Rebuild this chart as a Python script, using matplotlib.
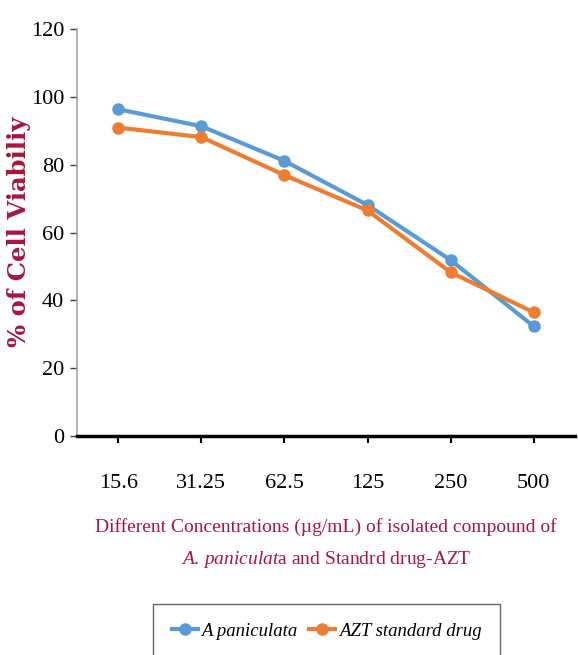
import numpy as np
import matplotlib.pyplot as plt

# viability (%) at each concentration
concentrations = ['15.6', '31.25', '62.5', '125', '250', '500']
a_paniculata = [96.3, 91.3, 81.1, 68.1, 51.9, 32.4]
azt_standard = [90.9, 88.1, 76.9, 66.5, 48.3, 36.5]
y_ticks = [0, 20, 40, 60, 80, 100, 120]

blue = '#5B9BD5'
orange = '#ED7D31'
red = '#A5173F'

plt.rcParams['font.family'] = ['Liberation Serif', 'DejaVu Serif']
plt.rcParams['mathtext.fontset'] = 'custom'
plt.rcParams['mathtext.it'] = 'Liberation Serif:italic'
plt.rcParams['mathtext.rm'] = 'Liberation Serif'

fig = plt.figure(figsize=(5.78, 6.55), dpi=100)
ax = fig.add_axes([0.133, 0.334, 0.862, 0.622])

x = np.arange(len(concentrations))
ax.plot(x, a_paniculata, color=blue, lw=3, marker='o', ms=8,
        label='A paniculata')
ax.plot(x, azt_standard, color=orange, lw=3, marker='o', ms=8,
        label='AZT standard drug')

ax.set_xlim(-0.5, len(concentrations) - 0.5)
ax.set_ylim(0, 120)
ax.set_yticks(y_ticks)
ax.set_xticks(x)
ax.set_xticklabels(concentrations)

for s in ['top', 'right']:
    ax.spines[s].set_visible(False)
ax.spines['left'].set_color('#A6A6A6')
ax.spines['left'].set_linewidth(1.2)
ax.spines['bottom'].set_color('black')
ax.spines['bottom'].set_linewidth(2.5)

ax.tick_params(axis='y', direction='out', length=5, width=1, color='#404040',
               labelsize=16, pad=4)
ax.tick_params(axis='x', direction='out', length=5, width=1.5, color='black',
               labelsize=16, pad=22)

fig.text(0.033, 0.646, '% of Cell Viabiliy', color=red, fontsize=17.5,
         fontweight='bold', family='DejaVu Serif', rotation=90,
         ha='center', va='center')
ax.set_xlabel('Different Concentrations (µg/mL) of isolated compound of\n'
              r'$\it{A.\,paniculat}$a and Standrd drug-AZT',
              color=red, fontsize=14, labelpad=18, linespacing=1.9)

leg = fig.legend(loc='lower center', bbox_to_anchor=(0.565, -0.02), ncol=2,
                 frameon=True, fancybox=False, edgecolor='#404040',
                 prop={'style': 'italic', 'size': 13.5}, handlelength=1.4,
                 handletextpad=0.2, columnspacing=0.6, borderpad=1.0)
leg.get_frame().set_linewidth(1)

fig.savefig('out.png', dpi=100)
